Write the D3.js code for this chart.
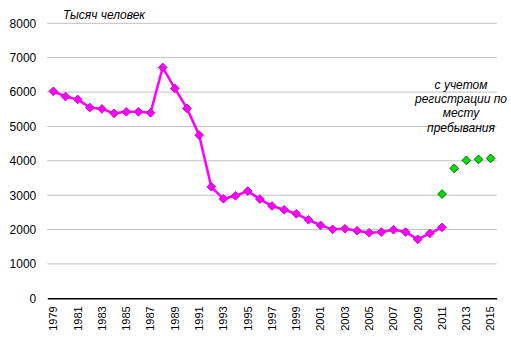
<!DOCTYPE html>
<html><head><meta charset="utf-8">
<script src="https://cdn.jsdelivr.net/npm/d3@7"></script>
<style>body{margin:0;background:#fff}svg{display:block}text{font-family:"Liberation Sans",Arial,sans-serif}</style>
</head><body>
<svg id="c" width="511" height="348"></svg>
<script>
const years = d3.range(1979, 2016).map(String);
const mainYears = d3.range(1979, 2012).map(String);
const mainValues = [6020,5870,5785,5550,5510,5380,5425,5425,5395,6715,6105,5523,4747,3244,2895,2983,3119,2887,2685,2576,2459,2285,2122,2006,2023,1965,1907,1927,1994,1927,1715,1890,2064];
const regYears = ["2011","2012","2013","2014","2015"];
const regValues = [3032,3779,4012,4041,4070];
const yTicks = [0,1000,2000,3000,4000,5000,6000,7000,8000];
const labelYears = years.filter((d,i)=>i%2===0);
const title = "Тысяч человек";
const noteLines = ["с учетом","регистрации по","месту","пребывания"];

const svg = d3.select("#c");
const L=47.3, R=496.7, T=23.3, B=298.3;
const x = d3.scaleBand().domain(years).range([L,R]);
const y = d3.scaleLinear().domain([0,8000]).range([B,T]);
const cx = d=>x(d)+x.bandwidth()/2;

// grid
svg.append("g").selectAll("line").data(yTicks.filter(d=>d>0)).join("line")
  .attr("x1",L).attr("x2",R).attr("y1",d=>y(d)).attr("y2",d=>y(d))
  .attr("stroke","#c0c0c0").attr("stroke-width",1);

// y axis labels
const ya = svg.append("g").attr("transform",`translate(${L},0)`)
  .call(d3.axisLeft(y).tickValues(yTicks).tickSize(0).tickPadding(11).tickFormat(d3.format("d")));
ya.select(".domain").remove();
ya.selectAll("text").attr("font-size",12).attr("fill","#000").attr("font-family","Liberation Sans, Arial, sans-serif");

// x axis
const xa = svg.append("g").attr("transform",`translate(0,${B})`)
  .call(d3.axisBottom(x).tickValues(labelYears).tickSize(0).tickPadding(0));
xa.select(".domain").attr("stroke","#000").attr("stroke-width",1.5);
xa.selectAll("text").attr("font-size",11).attr("fill","#000")
  .attr("font-family","Liberation Sans, Arial, sans-serif")
  .attr("transform","rotate(-90)").attr("text-anchor","end")
  .attr("x",-8).attr("y",0).attr("dy","0.35em");

// line
const mainData = mainYears.map((d,i)=>({k:d,v:mainValues[i]}));
svg.append("path").datum(mainData)
  .attr("d",d3.line().x(d=>cx(d.k)).y(d=>y(d.v)))
  .attr("fill","none").attr("stroke","#ff00ff").attr("stroke-width",2.5);

const diamond = d3.symbol().type(d3.symbolSquare).size(38);
svg.append("g").selectAll("path").data(mainData).join("path")
  .attr("d",diamond).attr("transform",d=>`translate(${cx(d.k)},${y(d.v)}) rotate(45)`)
  .attr("fill","#ff00ff").attr("stroke","#b000b0").attr("stroke-width",0.8);

const regData = regYears.map((d,i)=>({k:d,v:regValues[i]}));
svg.append("g").selectAll("path").data(regData).join("path")
  .attr("d",diamond).attr("transform",d=>`translate(${cx(d.k)},${y(d.v)}) rotate(45)`)
  .attr("fill","#00e000").attr("stroke","#005000").attr("stroke-width",0.8);

// title
svg.append("text").attr("x",63).attr("y",19).attr("font-size",12).attr("font-style","italic").text(title);

// note
svg.append("g").selectAll("text").data(noteLines).join("text")
  .attr("x",461).attr("y",(d,i)=>89+i*14.2).attr("text-anchor","middle")
  .attr("font-size",12).attr("font-style","italic").text(d=>d);
</script>
</body></html>
